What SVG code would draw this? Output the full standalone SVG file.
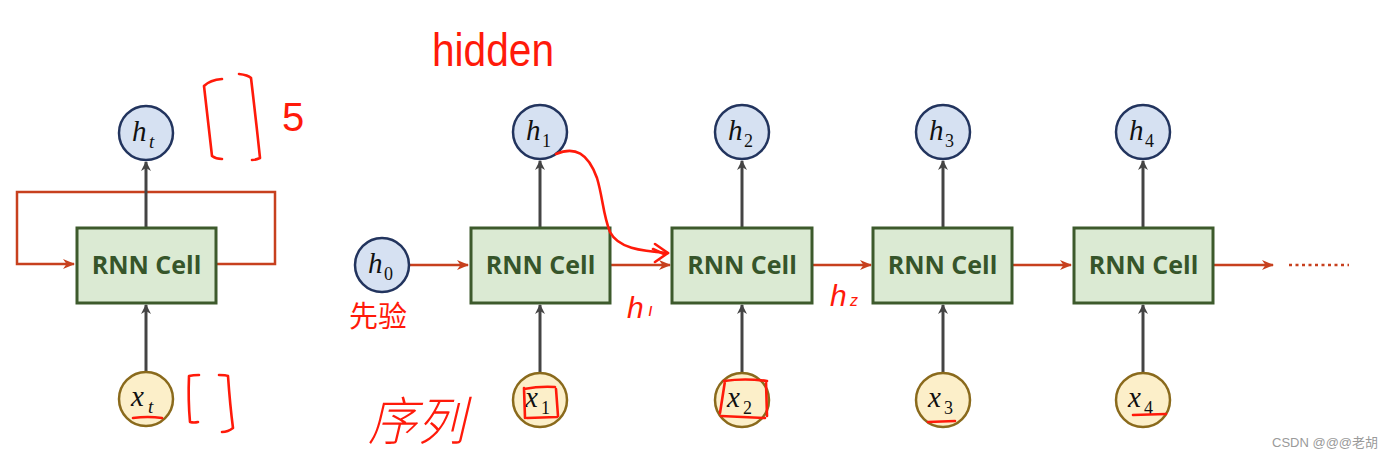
<svg xmlns="http://www.w3.org/2000/svg" width="1386" height="460" viewBox="0 0 1386 460">
<style>
.cell{fill:#dbead3;stroke:#3d5a2c;stroke-width:3}
.ct{font-family:"Open Sans","Liberation Sans",sans-serif;font-weight:700;font-size:25px;fill:#36552a;text-anchor:middle}
.hc{fill:#d6e1f2;stroke:#22345e;stroke-width:2.5}
.xc{fill:#fcefc9;stroke:#8a6a1c;stroke-width:2.5}
.m{font-family:"Liberation Serif","DejaVu Serif",serif;font-style:italic;font-size:29px;fill:#111}
.s{font-family:"Liberation Serif","DejaVu Serif",serif;font-size:18px;fill:#111}
.si{font-family:"Liberation Serif","DejaVu Serif",serif;font-style:italic;font-size:19px;fill:#111}
.red{fill:none;stroke:#c7401e;stroke-width:2.5}
.gray{fill:none;stroke:#444;stroke-width:3}
.pen{fill:none;stroke:#ff1a0a;stroke-width:2.6;stroke-linecap:round;stroke-linejoin:round}
.pt{fill:#ff1a0a;font-family:"Liberation Sans","Noto Sans CJK SC",sans-serif}
</style>
<defs>
<marker id="ar" viewBox="0 0 12 10" refX="11" refY="5" markerWidth="12" markerHeight="10" markerUnits="userSpaceOnUse" orient="auto">
<path d="M0,0 L12,5 L0,10 L3.5,5 z" fill="#c7401e"/>
</marker>
<marker id="ag" viewBox="0 0 10 10" refX="9" refY="5" markerWidth="10" markerHeight="10" markerUnits="userSpaceOnUse" orient="auto">
<path d="M0,0 L10,5 L0,10 L3,5 z" fill="#444"/>
</marker>
</defs>
<rect width="1386" height="460" fill="#fff"/>

<g id="connectors">
<path class="red" d="M216,264 H275 V192 H17 V264 H74" marker-end="url(#ar)"/>
<line class="gray" x1="146" y1="227" x2="146" y2="162" marker-end="url(#ag)"/>
<line class="gray" x1="146" y1="371" x2="146" y2="305" marker-end="url(#ag)"/>
<line class="red" x1="410" y1="265" x2="468" y2="265" marker-end="url(#ar)"/>
<line class="red" x1="610" y1="265" x2="670" y2="265" marker-end="url(#ar)"/>
<line class="red" x1="812" y1="265" x2="871" y2="265" marker-end="url(#ar)"/>
<line class="red" x1="1012" y1="265" x2="1071" y2="265" marker-end="url(#ar)"/>
<line class="red" x1="1213" y1="265" x2="1273" y2="265" marker-end="url(#ar)"/>
<line x1="1289" y1="265" x2="1349" y2="265" stroke="#c7401e" stroke-width="2.5" stroke-dasharray="3,3.5"/>
<line class="gray" x1="540" y1="227" x2="540" y2="161" marker-end="url(#ag)"/>
<line class="gray" x1="540" y1="372" x2="540" y2="305" marker-end="url(#ag)"/>
<line class="gray" x1="742" y1="227" x2="742" y2="161" marker-end="url(#ag)"/>
<line class="gray" x1="742" y1="372" x2="742" y2="305" marker-end="url(#ag)"/>
<line class="gray" x1="943" y1="227" x2="943" y2="161" marker-end="url(#ag)"/>
<line class="gray" x1="943" y1="372" x2="943" y2="305" marker-end="url(#ag)"/>
<line class="gray" x1="1143" y1="227" x2="1143" y2="161" marker-end="url(#ag)"/>
<line class="gray" x1="1143" y1="372" x2="1143" y2="305" marker-end="url(#ag)"/>
</g>

<g id="cell-t"><rect class="cell" x="77" y="228" width="139" height="75"/><text class="ct" x="146.5" y="274">RNN Cell</text></g>
<g id="h-t"><circle class="hc" cx="146" cy="133" r="27"/><text class="m" x="132" y="141">h</text><text class="si" x="149" y="148">t</text></g>
<g id="x-t"><circle class="xc" cx="146" cy="399" r="27"/><text class="m" x="131" y="406">x</text><text class="si" x="148" y="413">t</text></g>

<g id="h0"><circle class="hc" cx="382" cy="265" r="27"/><text class="m" x="368" y="273">h</text><text class="s" x="384" y="280">0</text></g>

<g id="cell1"><rect class="cell" x="471" y="228" width="139" height="75"/><text class="ct" x="540.5" y="274">RNN Cell</text></g>
<g id="h1"><circle class="hc" cx="540" cy="132" r="27"/><text class="m" x="526" y="140">h</text><text class="s" x="542" y="147">1</text></g>
<g id="x1"><circle class="xc" cx="540" cy="400" r="27"/><text class="m" x="525" y="407">x</text><text class="s" x="541" y="414">1</text></g>

<g id="cell2"><rect class="cell" x="672" y="228" width="140" height="75"/><text class="ct" x="742" y="274">RNN Cell</text></g>
<g id="h2"><circle class="hc" cx="742" cy="132" r="27"/><text class="m" x="728" y="140">h</text><text class="s" x="744" y="147">2</text></g>
<g id="x2"><circle class="xc" cx="742" cy="400" r="27"/><text class="m" x="727" y="407">x</text><text class="s" x="743" y="414">2</text></g>

<g id="cell3"><rect class="cell" x="873" y="228" width="139" height="75"/><text class="ct" x="942.5" y="274">RNN Cell</text></g>
<g id="h3"><circle class="hc" cx="943" cy="132" r="27"/><text class="m" x="929" y="140">h</text><text class="s" x="945" y="147">3</text></g>
<g id="x3"><circle class="xc" cx="943" cy="400" r="27"/><text class="m" x="928" y="407">x</text><text class="s" x="944" y="414">3</text></g>

<g id="cell4"><rect class="cell" x="1074" y="228" width="139" height="75"/><text class="ct" x="1143.5" y="274">RNN Cell</text></g>
<g id="h4"><circle class="hc" cx="1143" cy="132" r="27"/><text class="m" x="1129" y="140">h</text><text class="s" x="1145" y="147">4</text></g>
<g id="x4"><circle class="xc" cx="1143" cy="400" r="27"/><text class="m" x="1128" y="407">x</text><text class="s" x="1144" y="414">4</text></g>

<g id="annotations">
<text class="pt" x="432" y="66" font-size="46" font-family="DejaVu Sans Condensed, Liberation Sans, sans-serif" font-weight="200" textLength="122" lengthAdjust="spacingAndGlyphs">hidden</text>
<text class="pt" x="282" y="131" font-size="40" font-family="DejaVu Sans, sans-serif" font-weight="200">5</text>
<text class="pt" x="349" y="327" font-size="29" font-family="Noto Sans CJK SC, sans-serif">先验</text>
<text class="pt" x="368" y="440" font-size="52" font-style="italic" font-weight="300" font-family="Noto Sans CJK SC, sans-serif" textLength="98" lengthAdjust="spacingAndGlyphs">序列</text>
<text class="pt" x="627" y="318" font-size="30" font-style="italic">h</text><text class="pt" x="648" y="316" font-size="18" font-style="italic">ı</text>
<text class="pt" x="830" y="306" font-size="30" font-style="italic">h</text><text class="pt" x="850" y="306" font-size="16" font-style="italic">z</text>
<path class="pen" d="M222,79 Q210,80 204,86 Q208,120 212,156 Q216,159 222,159"/>
<path class="pen" d="M239,74 Q248,75 251,78 Q256,120 260,158 Q256,160 252,160"/>
<path class="pen" d="M199,375 Q193,375 189,376 Q188,400 190,422 Q194,423 198,422"/>
<path class="pen" d="M219,375 Q226,375 228,376 Q230,405 233,428 Q228,432 222,432"/>
<path class="pen" d="M133,418 Q148,416 162,418"/>
<path class="pen" d="M556,154 C575,146 588,153 597,178 C603,198 603,215 610,232 C618,248 640,251 668,253"/>
<path class="pen" d="M655,244 L668,253 L655,262 M653,249 L664,254"/>
<path class="pen" d="M524,389 Q540,386 555,387 M524,388 L525,418 M527,418 L557,417 M556,389 L558,416"/>
<path class="pen" d="M724,381 Q745,378 767,381 M725,381 L720,413 M721,416 L765,418 M766,382 L767,416"/>
<path class="pen" d="M928,422 L955,421"/>
<path class="pen" d="M1133,415 L1166,414"/>
</g>
<text x="1272" y="447" font-family="Liberation Sans,Noto Sans CJK SC,sans-serif" font-size="13" fill="#9a9a9a">CSDN @@@老胡</text>
</svg>
